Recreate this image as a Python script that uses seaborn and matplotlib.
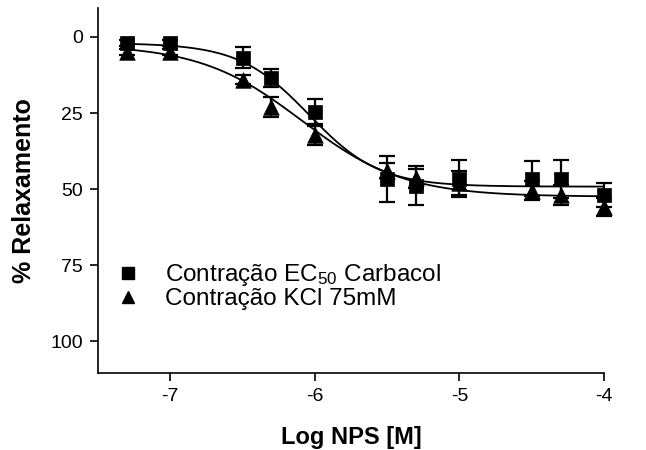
import numpy as np
import pandas as pd
import matplotlib
matplotlib.use("Agg")
import matplotlib.pyplot as plt
from matplotlib.lines import Line2D
import seaborn as sns

# Concentrations (log M)
log_conc = [-7.3, -7.0, -6.5, -6.3, -6.0, -5.5, -5.3, -5.0, -4.5, -4.3, -4.0]

# Carbacol EC50 pre-contraction: mean % relaxation and SEM
carb_mean = [2.0, 2.0, 6.8, 13.4, 24.8, 46.6, 48.9, 46.6, 46.6, 46.6, 52.0]
carb_sem = [1.0, 1.0, 3.4, 3.0, 4.4, 7.5, 6.4, 6.0, 5.8, 6.3, 4.0]

# KCl 75 mM pre-contraction: mean % relaxation and SEM
kcl_mean = [4.8, 5.0, 14.1, 23.0, 32.1, 44.0, 46.5, 47.9, 50.5, 52.0, 56.0]
kcl_sem = [1.0, 1.0, 1.5, 3.2, 3.4, 2.5, 3.0, 3.9, 3.0, 3.3, 3.0]

# Four-parameter logistic fits: top, bottom, logEC50, Hill slope
carb_fit = dict(top=2.0, bottom=49.2, logec50=-6.04, hill=1.79)
kcl_fit = dict(top=2.5, bottom=52.5, logec50=-6.09, hill=1.23)

y_ticks = [0, 25, 50, 75, 100]
x_ticks = [-7, -6, -5, -4]

carb_label = r"Contração EC$\mathregular{_{50}}$ Carbacol"
kcl_label = "Contração KCl 75mM"


def logistic(x, top, bottom, logec50, hill):
    return top + (bottom - top) / (1.0 + 10.0 ** ((logec50 - x) * hill))


sns.set_style("ticks")
plt.rcParams["font.family"] = ["Liberation Sans", "DejaVu Sans"]
plt.rcParams["mathtext.fontset"] = "custom"
plt.rcParams["mathtext.rm"] = "Liberation Sans"
plt.rcParams["text.color"] = "black"
plt.rcParams["axes.labelcolor"] = "black"

fig = plt.figure(figsize=(6.46, 4.5), dpi=100)
ax = fig.add_axes([0.1517, 0.171, 0.7833, 0.811])

x_curve = np.linspace(min(log_conc), max(log_conc), 300)
curves = pd.concat([
    pd.DataFrame({"x": x_curve, "y": logistic(x_curve, **carb_fit), "s": "carb"}),
    pd.DataFrame({"x": x_curve, "y": logistic(x_curve, **kcl_fit), "s": "kcl"}),
])
sns.lineplot(data=curves, x="x", y="y", units="s", estimator=None,
             color="black", lw=1.3, ax=ax, zorder=2)

err_kw = dict(fmt="none", ecolor="black", elinewidth=1.6, capsize=5.5,
              capthick=1.6, clip_on=False)
ax.errorbar(log_conc, kcl_mean, yerr=kcl_sem, zorder=3, **err_kw)
sns.scatterplot(x=log_conc, y=kcl_mean, marker="^", s=125, color="black",
                edgecolor="black", linewidth=0.5, ax=ax, zorder=4, clip_on=False)
ax.errorbar(log_conc, carb_mean, yerr=carb_sem, zorder=5, **err_kw)
sns.scatterplot(x=log_conc, y=carb_mean, marker="s", s=105, color="black",
                edgecolor="black", linewidth=0.5, ax=ax, zorder=6, clip_on=False)

ax.set_xlim(-7.5, -4.0)
ax.set_ylim(110.5, -9.5)
ax.set_xticks(x_ticks)
ax.set_xticklabels([str(t) for t in x_ticks])
ax.set_yticks(y_ticks)
ax.set_yticklabels([str(t) for t in y_ticks])
ax.tick_params(axis="both", direction="out", length=6, width=1.2,
               labelsize=14, color="black", labelcolor="black", pad=5)

sns.despine(ax=ax)
for side in ("left", "bottom"):
    ax.spines[side].set_linewidth(1.2)
    ax.spines[side].set_color("black")

ax.set_xlabel("Log NPS [M]", fontsize=17, fontweight="bold", labelpad=15)
ax.set_ylabel("% Relaxamento", fontsize=18, fontweight="bold", labelpad=10)

handles = [
    Line2D([], [], ls="none", marker="s", color="black", markersize=8),
    Line2D([], [], ls="none", marker="^", color="black", markersize=8.5),
]
ax.legend(handles, [carb_label, kcl_label], loc="upper left",
          bbox_to_anchor=(0.0375, 0.304), frameon=False, fontsize=17.5,
          handlelength=0.9, handletextpad=1.07, labelspacing=0.0,
          borderpad=0.0, borderaxespad=0.0)

fig.savefig("out.png", dpi=100)
